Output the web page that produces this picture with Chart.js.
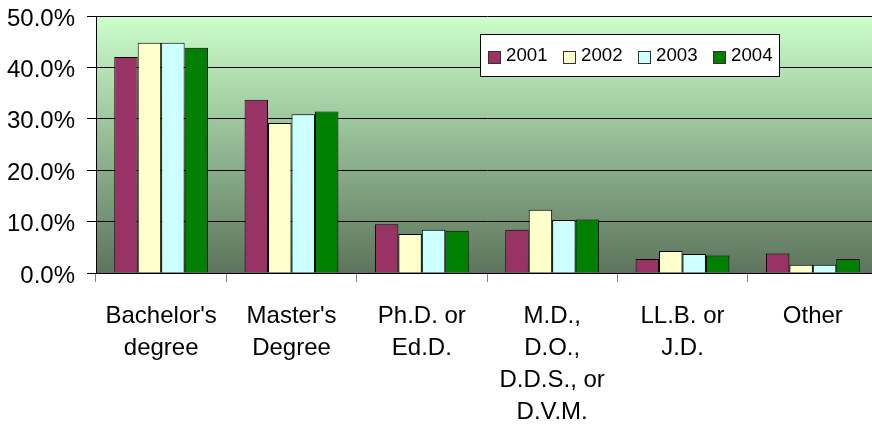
<!DOCTYPE html>
<html lang="en">
<head>
<meta charset="UTF-8">
<script src="https://cdn.jsdelivr.net/npm/chart.js"></script>
<title>Degrees by year</title>
<style>
  html, body { margin: 0; padding: 0; background: #fff; overflow: hidden; }
  #wrap { width: 880px; height: 428px; }
</style>
</head>
<body>
<div id="wrap"><canvas id="chart" width="880" height="428"></canvas></div>
<script>
// data (percent)
const categories = [
    ["Bachelor's", "degree"],
    ["Master's", "Degree"],
    ["Ph.D. or", "Ed.D."],
    ["M.D.,", "D.O.,", "D.D.S., or", "D.V.M."],
    ["LL.B. or", "J.D."],
    ["Other"]
];
const years = ['2001', '2002', '2003', '2004'];
const values2001 = [42.0, 33.7, 9.5, 8.4, 2.7, 3.8];
const values2002 = [44.8, 29.2, 7.6, 12.3, 4.3, 1.6];
const values2003 = [44.8, 30.9, 8.4, 10.3, 3.7, 1.6];
const values2004 = [43.8, 31.4, 8.2, 10.4, 3.4, 2.7];
const yTicks = [0, 10, 20, 30, 40, 50];

const colors = ['#993366', '#ffffcc', '#ccffff', '#008000'];
const font = { family: '"Liberation Sans", Arial, sans-serif', size: 24, lineHeight: 1.333 };

// gradient behind the plot
const plotBackground = {
    id: 'plotBackground',
    beforeDraw(chart) {
        const { ctx, chartArea: a } = chart;
        const g = ctx.createLinearGradient(0, a.top, 0, a.bottom);
        g.addColorStop(0, '#ccffcc');
        g.addColorStop(1, '#5c745c');
        ctx.save();
        ctx.fillStyle = g;
        ctx.fillRect(a.left, a.top, a.right - a.left, a.bottom - a.top);
        ctx.restore();
    }
};

// boxed legend inside the plot, top right
const boxLegend = {
    id: 'boxLegend',
    afterDraw(chart) {
        const ctx = chart.ctx;
        const x0 = 480, y0 = 34, w = 299, h = 42;
        ctx.save();
        ctx.fillStyle = '#fff';
        ctx.fillRect(x0, y0, w, h);
        ctx.strokeStyle = '#000';
        ctx.lineWidth = 1;
        ctx.strokeRect(x0 + 0.5, y0 + 0.5, w, h);
        ctx.font = '18.7px "Liberation Sans", Arial, sans-serif';
        ctx.textBaseline = 'middle';
        chart.data.datasets.forEach((ds, i) => {
            const x = x0 + 8 + i * 75;
            ctx.fillStyle = ds.backgroundColor;
            ctx.fillRect(x, 51, 12, 12);
            ctx.strokeStyle = '#333';
            ctx.strokeRect(x + 0.5, 51.5, 12, 12);
            ctx.fillStyle = '#000';
            ctx.fillText(ds.label, x + 18, 56);
        });
        ctx.restore();
    }
};

const series = [values2001, values2002, values2003, values2004];

new Chart(document.getElementById('chart'), {
    type: 'bar',
    data: {
        labels: categories,
        datasets: years.map((y, i) => ({
            label: y,
            data: series[i],
            backgroundColor: colors[i],
            borderColor: '#000',
            borderWidth: 1,
            borderSkipped: 'bottom',
            barPercentage: 1,
            categoryPercentage: 0.72
        }))
    },
    options: {
        responsive: false,
        animation: false,
        layout: { padding: { right: 2, top: 0, bottom: 0, left: 0 } },
        plugins: {
            legend: { display: false },
            tooltip: { enabled: false }
        },
        scales: {
            x: {
                grid: { drawOnChartArea: false, color: '#808080', tickLength: 9, offset: true },
                border: { color: '#000', width: 1 },
                ticks: { color: '#000', font: font, padding: 18, maxRotation: 0, autoSkip: false },
                afterFit(axis) {
                    axis.height = 155;
                    axis.paddingLeft = 0;
                    axis.paddingRight = 0;
                }
            },
            y: {
                min: 0,
                max: 50,
                afterBuildTicks(axis) { axis.ticks = yTicks.map(v => ({ value: v })); },
                grid: { color: '#000', tickLength: 9 },
                border: { color: '#000', width: 1 },
                ticks: {
                    color: '#000',
                    font: font,
                    padding: 12,
                    labelOffset: 3,
                    callback: v => v.toFixed(1) + '%'
                },
                afterFit(axis) {
                    axis.width = 96;
                    axis.paddingTop = 16;
                    axis.paddingBottom = 0;
                }
            }
        }
    },
    plugins: [plotBackground, boxLegend]
});
</script>
</body>
</html>
